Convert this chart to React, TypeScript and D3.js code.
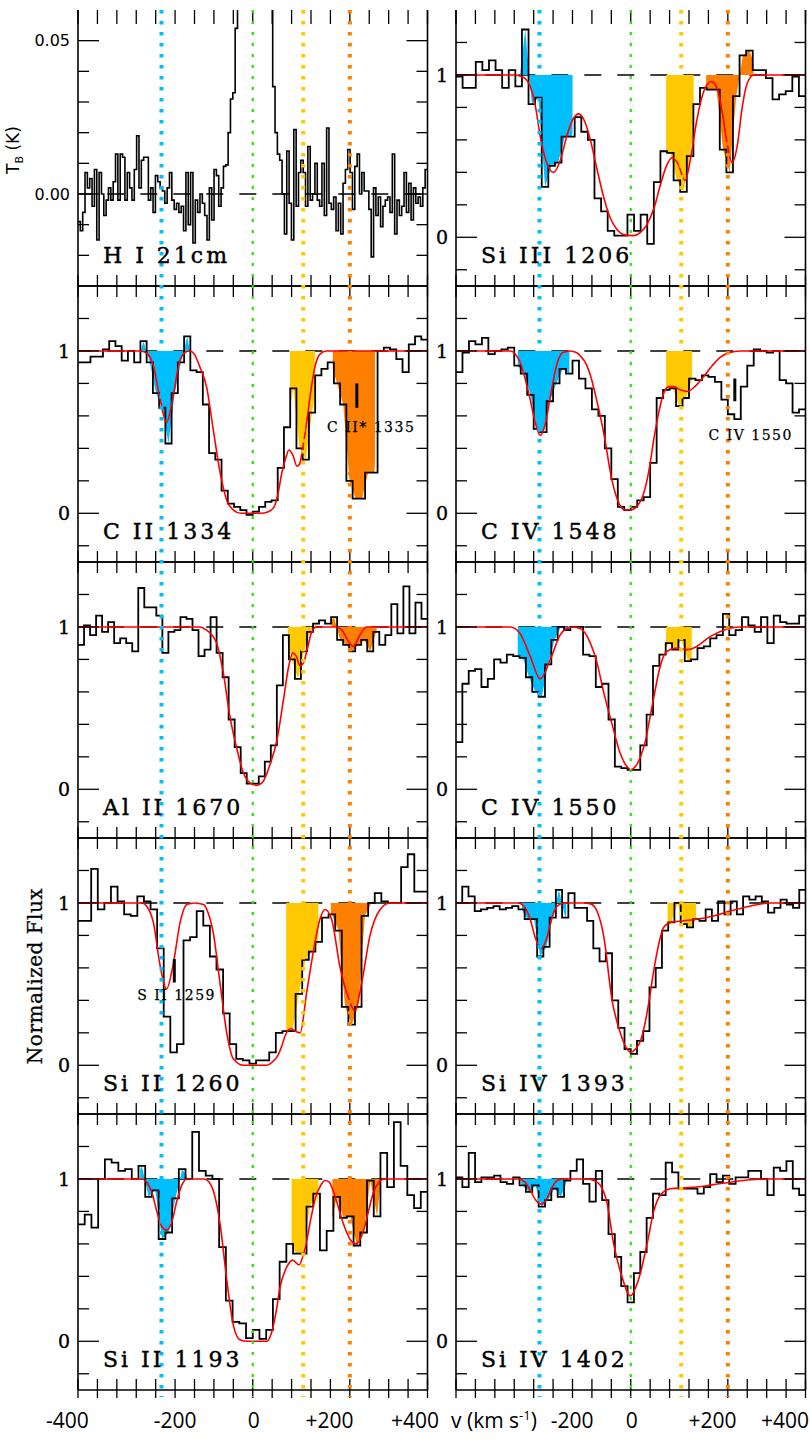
import React from 'react';
import * as d3 from 'd3';

// ---------------- data ----------------
const VEL_DOMAIN = [-450, 450];
const FLUX_DOMAIN = [-0.3, 1.4];
const TB_DOMAIN = [-0.03, 0.06];
const xTickVals = d3.range(-450, 451, 50);
const xLabelVals = [-400, -200, 0, 200, 400];
const xLabelTexts = ['-400', '-200', '0', '+200', '+400'];
const fluxTickVals = [-0.2, 0, 0.2, 0.4, 0.6, 0.8, 1, 1.2];
const fluxLabelVals = [0, 1];
const tbTickVals = [-0.02, -0.01, 0, 0.01, 0.02, 0.03, 0.04, 0.05];
const tbLabelVals = [0, 0.05];
const componentNames = ['blue', 'green', 'yellow', 'orange'];
const componentVels = [-235, 0, 130, 250];

const hiTb = [
  -0.009, -0.012, -0.006, 0.007, 0.002, 0.005, -0.004, 0.008, -0.015, 0.007, 0.0,
  -0.007, -0.002, 0.002, -0.002, 0.004, 0.013, -0.002, 0.013, 0.012, -0.002,
  0.007, 0.002, -0.002, 0.008, 0.019, 0.002, 0.011, 0.012, 0.012, -0.002,
  0.002, -0.006, 0.006, 0.004, 0.002, 0.001, -0.003, 0.002, 0.007, -0.002,
  -0.005, -0.003, -0.006, -0.004, -0.012, 0.007, -0.01, 0.007, -0.016, -0.002,
  -0.006, 0.0, -0.003, -0.007, -0.015, 0.002, -0.0085, 0.008, 0.006, -0.004,
  0.002, 0.009, 0.0095, 0.02, 0.031, 0.033, 0.054,
  0.09, 0.3, 1.2, 3, 6, 9, 10, 9, 7, 4, 2, 0.8, 0.3, 0.12, 0.07,
  0.035, 0.02, 0.013, 0.011, 0.0, -0.013, 0.014, -0.003, -0.015, 0.021,
  -0.004, 0.007, 0.011, 0.007, -0.004, 0.0155, -0.002, 0.0, 0.010, -0.002,
  -0.004, 0.010, -0.007, 0.0215, -0.003, -0.005, -0.001, -0.012, -0.003, -0.013,
  0.0035, 0.008, 0.0145, 0.007, -0.005, 0.009, 0.013, 0.0, 0.007, 0.001,
  0.001, -0.005, -0.0205, 0.002, -0.007, -0.001, -0.0107, -0.004, -0.002, -0.001,
  -0.006, 0.013, -0.013, -0.002, -0.007, -0.004, 0.007, -0.006, 0.0035, -0.0085,
  0.002, -0.003, -0.001, -0.004, 0.002, 0.008,
];

const siIII1206Flux = [0.99, 0.92, 0.92, 1.08, 1.03, 1.09, 1.03, 0.92, 1.03, 0.93, 1.28, 0.82, 0.86, 0.31, 0.44, 0.46, 0.62, 0.62, 0.74, 0.65, 0.60, 0.24, 0.16, 0.04, 0.01, 0.01, 0.14, 0.04, 0.14, -0.04, 0.34, 0.53, 0.52, 0.35, 0.28, 0.5, 0.82, 0.92, 0.91, 0.91, 0.54, 0.40, 0.87, 1.12, 1.15, 1.03, 1.03, 0.98, 0.85, 0.88, 0.90, 0.99, 0.87];
const siIII1206Model = [[-450, 1], [-300, 1], [-280, 0.99], [-259, 0.93], [-245, 0.8], [-233, 0.62], [-215, 0.45], [-199, 0.40], [-182, 0.47], [-164, 0.63], [-148, 0.73], [-134, 0.76], [-118, 0.71], [-104, 0.6], [-87, 0.42], [-70, 0.25], [-53, 0.12], [-36, 0.05], [-15, 0.015], [7, 0.01], [25, 0.03], [42, 0.08], [60, 0.18], [76, 0.32], [92, 0.44], [106, 0.49], [120, 0.46], [140, 0.35], [155, 0.5], [170, 0.72], [188, 0.9], [207, 0.96], [222, 0.92], [235, 0.78], [248, 0.58], [261, 0.46], [274, 0.56], [287, 0.80], [300, 0.95], [317, 1], [450, 1]];

const cII1334Flux = [0.93, 0.93, 0.965, 0.965, 1.01, 1.06, 1.03, 0.94, 1.0, 0.93, 1.06, 0.93, 0.74, 0.65, 0.43, 0.74, 0.93, 1.09, 0.88, 0.87, 0.67, 0.37, 0.33, 0.14, 0.06, 0.04, 0.02, -0.01, 0.01, 0.04, 0.07, 0.08, 0.28, 0.53, 0.77, 0.40, 0.33, 0.62, 0.85, 0.89, 0.93, 0.80, 0.67, 0.20, 0.09, 0.09, 0.25, 0.25, 1.0, 1.02, 1.01, 0.95, 0.87, 1.04, 1.09, 1.07];
const cII1334Model = [[-450, 1], [-290, 1], [-270, 0.98], [-255, 0.9], [-240, 0.72], [-222, 0.56], [-205, 0.72], [-190, 0.92], [-175, 0.99], [-162, 1.0], [-148, 0.97], [-136, 0.9], [-119, 0.78], [-102, 0.52], [-84, 0.25], [-67, 0.08], [-50, 0.02], [-30, 0.0], [20, 0.0], [40, 0.01], [55, 0.04], [65, 0.12], [75, 0.25], [85, 0.34], [93, 0.39], [103, 0.36], [114, 0.29], [120, 0.3], [130, 0.42], [140, 0.58], [150, 0.76], [160, 0.9], [173, 0.98], [190, 1], [450, 1]];

const cIV1548Flux = [0.87, 0.99, 1.06, 1.04, 1.08, 0.98, 1.0, 1.01, 1.02, 0.91, 0.86, 0.73, 0.52, 0.50, 0.69, 0.80, 0.89, 0.86, 0.94, 0.83, 0.77, 0.64, 0.60, 0.40, 0.21, 0.04, 0.02, 0.04, 0.08, 0.10, 0.31, 0.71, 0.76, 0.77, 0.66, 0.71, 0.83, 0.82, 0.85, 0.84, 0.81, 0.70, 0.61, 0.58, 0.78, 0.91, 1.01, 1.0, 0.99, 1.0, 0.82, 0.80, 0.62, 0.64];
const cIV1548Model = [[-450, 1], [-310, 1], [-285, 0.93], [-259, 0.7], [-245, 0.55], [-233, 0.48], [-220, 0.55], [-207, 0.72], [-190, 0.92], [-175, 0.99], [-156, 1.0], [-140, 0.99], [-130, 0.97], [-115, 0.92], [-104, 0.85], [-88, 0.7], [-70, 0.5], [-48, 0.2], [-30, 0.06], [-15, 0.02], [0, 0.02], [15, 0.04], [33, 0.12], [48, 0.28], [59, 0.45], [72, 0.62], [85, 0.74], [98, 0.78], [110, 0.78], [128, 0.76], [145, 0.75], [165, 0.78], [187, 0.84], [210, 0.91], [230, 0.96], [255, 0.99], [282, 1], [450, 1]];

const alII1670Flux = [0.89, 1.01, 0.95, 1.07, 0.97, 1.03, 0.90, 0.93, 0.90, 0.85, 1.24, 1.12, 1.12, 1.07, 0.84, 0.97, 0.98, 1.06, 1.05, 0.98, 0.82, 0.86, 1.06, 0.84, 0.69, 0.43, 0.26, 0.10, 0.035, 0.035, 0.08, 0.17, 0.27, 0.64, 0.95, 0.80, 0.68, 0.85, 0.97, 1.02, 1.04, 1.02, 1.06, 0.92, 0.89, 0.85, 0.89, 0.92, 0.85, 0.97, 0.89, 0.95, 1.14, 0.96, 1.25, 0.96, 1.15, 1.05];
const alII1670Model = [[-450, 1], [-135, 1], [-119, 0.98], [-105, 0.95], [-93, 0.9], [-76, 0.72], [-59, 0.45], [-41, 0.25], [-24, 0.1], [-7, 0.04], [10, 0.025], [27, 0.05], [44, 0.15], [62, 0.3], [79, 0.55], [92, 0.75], [103, 0.84], [112, 0.82], [122, 0.76], [131, 0.78], [139, 0.85], [152, 0.97], [165, 1], [215, 1], [230, 0.98], [242, 0.93], [259, 0.88], [276, 0.95], [293, 1], [450, 1]];

const cIV1550Flux = [0.29, 0.65, 0.73, 0.74, 0.63, 0.68, 0.80, 0.78, 0.83, 0.82, 0.81, 0.69, 0.60, 0.57, 0.77, 0.92, 1.0, 0.98, 1.0, 1.0, 0.83, 0.82, 0.63, 0.65, 0.43, 0.14, 0.13, 0.12, 0.12, 0.27, 0.46, 0.76, 0.83, 0.90, 0.86, 0.92, 0.79, 0.80, 0.87, 0.88, 0.93, 0.95, 1.08, 0.95, 0.98, 1.06, 1.01, 0.97, 1.06, 0.90, 1.07, 1.03, 1.02, 1.02, 1.07];
const cIV1550Model = [[-450, 1], [-310, 1], [-285, 0.96], [-259, 0.82], [-233, 0.68], [-207, 0.8], [-182, 0.95], [-165, 0.99], [-150, 1.0], [-130, 0.99], [-104, 0.9], [-87, 0.78], [-70, 0.6], [-48, 0.4], [-27, 0.22], [-10, 0.14], [0, 0.12], [12, 0.14], [25, 0.2], [38, 0.3], [50, 0.45], [62, 0.6], [72, 0.72], [93, 0.85], [119, 0.87], [145, 0.86], [170, 0.88], [204, 0.94], [239, 0.98], [282, 1], [450, 1]];

const siII1260Flux = [0.89, 0.89, 1.21, 0.96, 1.0, 1.10, 1.01, 0.93, 0.92, 1.04, 1.01, 0.96, 0.72, 0.30, 0.08, 0.13, 0.77, 0.79, 0.95, 0.86, 0.67, 0.59, 0.32, 0.13, 0.04, 0.03, 0.01, 0.03, 0.03, 0.08, 0.20, 0.21, 0.21, 0.44, 0.65, 0.70, 0.76, 0.91, 0.93, 0.83, 0.36, 0.25, 0.36, 0.92, 1.0, 1.06, 1.01, 1.0, 1.0, 1.22, 1.30, 1.07, 1.07];
const siII1260Model = [[-450, 1], [-285, 1], [-273, 0.98], [-256, 0.88], [-239, 0.62], [-222, 0.47], [-205, 0.62], [-187, 0.88], [-170, 0.99], [-150, 1.0], [-127, 0.99], [-115, 0.94], [-102, 0.82], [-84, 0.5], [-67, 0.2], [-50, 0.04], [-24, 0.0], [36, 0.0], [50, 0.02], [62, 0.05], [75, 0.12], [83, 0.18], [98, 0.225], [110, 0.21], [122, 0.2], [139, 0.45], [156, 0.7], [173, 0.9], [186, 0.96], [203, 0.9], [225, 0.6], [246, 0.42], [263, 0.335], [280, 0.5], [302, 0.8], [328, 0.96], [353, 1], [450, 1]];

const siIV1393Flux = [1.0, 1.10, 1.04, 0.95, 0.96, 0.97, 0.98, 0.96, 0.97, 0.98, 0.96, 0.90, 0.90, 0.67, 0.73, 0.91, 1.08, 0.91, 1.06, 0.97, 0.97, 0.89, 0.72, 0.64, 0.69, 0.40, 0.23, 0.10, 0.07, 0.15, 0.21, 0.48, 0.60, 0.83, 0.88, 1.0, 0.87, 0.85, 0.90, 0.89, 0.96, 0.89, 1.01, 0.93, 1.01, 0.93, 1.04, 1.02, 1.04, 1.01, 0.94, 0.97, 1.02, 0.99, 0.97, 1.08];
const siIV1393Model = [[-450, 1], [-290, 1], [-272, 0.97], [-259, 0.9], [-245, 0.78], [-231, 0.72], [-218, 0.77], [-204, 0.9], [-190, 0.98], [-170, 1], [-115, 1], [-100, 0.99], [-87, 0.95], [-70, 0.8], [-48, 0.4], [-27, 0.2], [-12, 0.11], [0, 0.08], [12, 0.1], [25, 0.15], [36, 0.25], [46, 0.38], [57, 0.55], [68, 0.7], [85, 0.85], [102, 0.88], [136, 0.89], [170, 0.9], [213, 0.92], [256, 0.95], [307, 0.98], [360, 1], [450, 1]];

const siII1193Flux = [0.72, 0.78, 0.70, 1.0, 1.12, 1.10, 1.05, 1.06, 1.0, 1.08, 0.89, 0.93, 0.63, 0.67, 0.88, 1.06, 1.0, 1.29, 1.05, 1.02, 1.0, 0.58, 0.25, 0.12, 0.11, 0.02, 0.07, 0.015, 0.07, 0.26, 0.49, 0.60, 0.54, 0.54, 0.83, 0.91, 0.56, 0.68, 0.89, 0.76, 0.77, 0.59, 0.67, 0.99, 0.77, 1.16, 0.95, 1.35, 1.08, 0.9, 0.82, 0.92];
const siII1193Model = [[-450, 1], [-285, 1], [-273, 0.98], [-260, 0.92], [-247, 0.8], [-235, 0.71], [-222, 0.685], [-209, 0.73], [-196, 0.86], [-183, 0.96], [-170, 1], [-125, 1], [-112, 0.98], [-102, 0.93], [-84, 0.72], [-67, 0.38], [-50, 0.1], [-33, 0.01], [-15, 0], [36, 0], [48, 0.05], [60, 0.18], [70, 0.33], [88, 0.46], [103, 0.5], [119, 0.47], [130, 0.53], [139, 0.62], [150, 0.76], [161, 0.88], [175, 0.96], [186, 0.99], [197, 0.98], [208, 0.92], [234, 0.72], [250, 0.63], [266, 0.6], [285, 0.68], [300, 0.82], [311, 0.92], [325, 0.98], [337, 1], [450, 1]];

const siIV1402Flux = [1.01, 0.95, 1.16, 0.98, 1.01, 1.01, 1.02, 0.98, 0.97, 1.01, 0.96, 0.92, 0.96, 0.83, 0.87, 0.94, 0.89, 0.99, 1.05, 1.12, 0.97, 0.86, 1.05, 0.87, 0.66, 0.52, 0.34, 0.24, 0.42, 0.55, 0.76, 0.91, 0.90, 1.10, 1.04, 0.94, 0.94, 0.94, 0.91, 0.95, 1.03, 0.98, 1.02, 0.97, 1.01, 1.01, 1.05, 1.05, 1.0, 0.90, 1.07, 1.05, 1.11, 0.94, 0.90];
const siIV1402Model = [[-450, 1], [-290, 1], [-272, 0.98], [-259, 0.93], [-245, 0.87], [-231, 0.845], [-218, 0.87], [-204, 0.94], [-190, 0.99], [-175, 1], [-110, 1], [-95, 0.99], [-78, 0.96], [-61, 0.85], [-44, 0.6], [-23, 0.4], [-1, 0.28], [20, 0.38], [42, 0.6], [59, 0.8], [76, 0.9], [102, 0.94], [136, 0.945], [170, 0.95], [213, 0.965], [256, 0.98], [307, 0.995], [342, 1], [450, 1]];

// integration ranges (km/s) that are shaded
const siIII1206Fills = [{ comp: 'blue', range: [-285, -150] }, { comp: 'yellow', range: [91, 162] }, { comp: 'orange', range: [194, 316] }];
const cII1334Fills = [{ comp: 'blue', range: [-290, -160] }, { comp: 'yellow', range: [96, 160] }, { comp: 'orange', range: [206, 315] }];
const cIV1548Fills = [{ comp: 'blue', range: [-291, -158] }, { comp: 'yellow', range: [91, 158] }];
const alII1670Fills = [{ comp: 'yellow', range: [90, 163] }, { comp: 'orange', range: [203, 319] }];
const cIV1550Fills = [{ comp: 'blue', range: [-291, -158] }, { comp: 'yellow', range: [91, 157] }];
const siII1260Fills = [{ comp: 'yellow', range: [86, 169] }, { comp: 'orange', range: [201, 310] }];
const siIV1393Fills = [{ comp: 'blue', range: [-280, -166] }, { comp: 'yellow', range: [95, 168] }];
const siII1193Fills = [{ comp: 'blue', range: [-290, -170] }, { comp: 'yellow', range: [100, 169] }, { comp: 'orange', range: [205, 328] }];
const siIV1402Fills = [{ comp: 'blue', range: [-283, -166] }];

const fluxPanels = [
  { id: 'siIII1206', label: 'Si III 1206', col: 1, row: 0, flux: siIII1206Flux, model: siIII1206Model, fills: siIII1206Fills },
  { id: 'cII1334', label: 'C II 1334', col: 0, row: 1, flux: cII1334Flux, model: cII1334Model, fills: cII1334Fills },
  { id: 'cIV1548', label: 'C IV 1548', col: 1, row: 1, flux: cIV1548Flux, model: cIV1548Model, fills: cIV1548Fills },
  { id: 'alII1670', label: 'Al II 1670', col: 0, row: 2, flux: alII1670Flux, model: alII1670Model, fills: alII1670Fills },
  { id: 'cIV1550', label: 'C IV 1550', col: 1, row: 2, flux: cIV1550Flux, model: cIV1550Model, fills: cIV1550Fills },
  { id: 'siII1260', label: 'Si II 1260', col: 0, row: 3, flux: siII1260Flux, model: siII1260Model, fills: siII1260Fills },
  { id: 'siIV1393', label: 'Si IV 1393', col: 1, row: 3, flux: siIV1393Flux, model: siIV1393Model, fills: siIV1393Fills },
  { id: 'siII1193', label: 'Si II 1193', col: 0, row: 4, flux: siII1193Flux, model: siII1193Model, fills: siII1193Fills },
  { id: 'siIV1402', label: 'Si IV 1402', col: 1, row: 4, flux: siIV1402Flux, model: siIV1402Model, fills: siIV1402Fills },
];

// blend markers
const blendPanels = ['cII1334', 'cIV1548', 'siII1260'];
const blendTexts = ['C II* 1335', 'C IV 1550', 'S II 1259'];
const blendVels = [268, 268, -202];
const blendFluxSpans = [[0.65, 0.80], [0.69, 0.83], [0.51, 0.655]];
const blendTextVels = [305, 309, -196];
const blendTextFlux = [0.50, 0.45, 0.40];

// ---------------- layout ----------------
const W = 810, H = 1440;
const COL_X = [78, 456];
const PANEL_W = 349.5;
const ROW_TOP = 10;
const PANEL_H = 276;
const N_ROWS = 5;
const COLORS = { blue: '#00BFFF', green: '#22E800', yellow: '#FFC800', orange: '#FF8000' };
const LABEL_DX = [[-30, 0, 1, -1, 7], [0, 19, 1, 4, -1]];
const SERIF = 'DejaVu Serif, serif';

function xScaleFor(col) {
  return d3.scaleLinear().domain(VEL_DOMAIN).range([COL_X[col], COL_X[col] + PANEL_W]);
}

function Frame({ col, row, y, yTicks, yMajor, yLabels, fmt, labelFont }) {
  const left = COL_X[col], right = left + PANEL_W;
  const top = ROW_TOP + row * PANEL_H, bottom = top + PANEL_H;
  const x = xScaleFor(col);
  const els = [];
  els.push(<line key="l" x1={left} x2={left} y1={top} y2={bottom} stroke="#000" strokeWidth={1.6} />);
  els.push(<line key="r" x1={right} x2={right} y1={top} y2={bottom} stroke="#000" strokeWidth={1.6} />);
  els.push(<line key="b" x1={left} x2={right} y1={bottom} y2={bottom} stroke="#000" strokeWidth={1.6} />);
  if (row > 0) els.push(<line key="t" x1={left} x2={right} y1={top} y2={top} stroke="#000" strokeWidth={1.6} />);
  xTickVals.forEach((v, i) => {
    const xx = x(v);
    els.push(<line key={'xt' + i} x1={xx} x2={xx} y1={top} y2={top + (row === 0 ? 14 : 11)} stroke="#000" strokeWidth={1.3} />);
    els.push(<line key={'xb' + i} x1={xx} x2={xx} y1={bottom - 11} y2={bottom + (row === N_ROWS - 1 ? 8 : 0)} stroke="#000" strokeWidth={1.3} />);
  });
  yTicks.forEach((v, i) => {
    const yy = y(v);
    const len = yMajor.some(m => Math.abs(m - v) < 1e-9) ? 21 : 11;
    els.push(<line key={'yl' + i} x1={left} x2={left + len} y1={yy} y2={yy} stroke="#000" strokeWidth={1.3} />);
    els.push(<line key={'yr' + i} x1={right - len} x2={right} y1={yy} y2={yy} stroke="#000" strokeWidth={1.3} />);
  });
  yLabels.forEach((v, i) => {
    els.push(<text key={'lab' + i} x={left - 8} y={y(v)} dy="0.36em" textAnchor="end" fontFamily={labelFont.family} fontSize={labelFont.size} stroke={labelFont.stroke ? '#000' : 'none'} strokeWidth={labelFont.stroke || 0} fill="#000">{fmt(v)}</text>);
  });
  return <g>{els}</g>;
}

function PanelLabel({ col, row, text }) {
  const left = COL_X[col];
  const bottom = ROW_TOP + (row + 1) * PANEL_H;
  return (
    <text x={left + 25} y={bottom - 23} fontFamily={SERIF} fontSize={22} letterSpacing={3} fill="#000" stroke="#000" strokeWidth={0.45} style={{ whiteSpace: 'pre' }}>{text}</text>
  );
}

function FluxPanel({ p }) {
  const left = COL_X[p.col];
  const top = ROW_TOP + p.row * PANEL_H, bottom = top + PANEL_H;
  const x = xScaleFor(p.col);
  const y = d3.scaleLinear().domain(FLUX_DOMAIN).range([bottom, top]);
  const n = p.flux.length;
  const w = (VEL_DOMAIN[1] - VEL_DOMAIN[0]) / n;
  const stepPts = p.flux.map((f, i) => [VEL_DOMAIN[0] + i * w, f]).concat([[VEL_DOMAIN[1], p.flux[n - 1]]]);
  const stepPath = d3.line().x(d => x(d[0])).y(d => y(d[1])).curve(d3.curveStepAfter)(stepPts);
  const centers = p.flux.map((f, i) => [VEL_DOMAIN[0] + (i + 0.5) * w, f]);
  const interp = d3.scaleLinear().domain(centers.map(c => c[0])).range(centers.map(c => c[1])).clamp(true);
  const area = d3.area().x(d => x(d[0])).y0(y(1)).y1(d => y(d[1]));
  const fills = p.fills.map(fl => {
    const [a, b] = fl.range;
    const pts = [[a, interp(a)], ...centers.filter(c => c[0] > a && c[0] < b), [b, interp(b)]];
    return { d: area(pts), color: COLORS[fl.comp] };
  });
  const modelPath = d3.line().x(d => x(d[0])).y(d => y(d[1])).curve(d3.curveMonotoneX)(p.model);
  const clipId = 'clip-' + p.id;
  return (
    <g>
      <clipPath id={clipId}><rect x={left} y={top} width={PANEL_W} height={PANEL_H} /></clipPath>
      <g clipPath={`url(#${clipId})`}>
        <line x1={left} x2={left + PANEL_W} y1={y(1)} y2={y(1)} stroke="#000" strokeWidth={1.4} strokeDasharray="17 16" strokeDashoffset={3.7} />
        {fills.map((f, i) => <path key={i} d={f.d} fill={f.color} stroke="none" />)}
        <path d={stepPath} fill="none" stroke="#000" strokeWidth={1.8} />
        <path d={modelPath} fill="none" stroke="#FF0000" strokeWidth={1.6} />
      </g>
      <Frame col={p.col} row={p.row} y={y} yTicks={fluxTickVals} yMajor={[0, 1]} yLabels={fluxLabelVals}
        fmt={v => String(v)} labelFont={{ family: SERIF, size: 19, stroke: 0.35 }} />
    </g>
  );
}

function HIPanel() {
  const col = 0, row = 0;
  const left = COL_X[col];
  const top = ROW_TOP + row * PANEL_H, bottom = top + PANEL_H;
  const x = xScaleFor(col);
  const y = d3.scaleLinear().domain(TB_DOMAIN).range([bottom, top]);
  const n = hiTb.length;
  const w = (VEL_DOMAIN[1] - VEL_DOMAIN[0]) / n;
  const pts = hiTb.map((f, i) => [VEL_DOMAIN[0] + i * w, f]).concat([[VEL_DOMAIN[1], hiTb[n - 1]]]);
  const path = d3.line().x(d => x(d[0])).y(d => Math.max(top - 20, y(d[1]))).curve(d3.curveStepAfter)(pts);
  return (
    <g>
      <clipPath id="clip-hi"><rect x={left} y={top} width={PANEL_W} height={PANEL_H} /></clipPath>
      <g clipPath="url(#clip-hi)">
        <line x1={left} x2={left + PANEL_W} y1={y(0)} y2={y(0)} stroke="#000" strokeWidth={1.4} strokeDasharray="17 16" strokeDashoffset={3.7} />
        <path d={path} fill="none" stroke="#000" strokeWidth={1.6} />
      </g>
      <Frame col={col} row={row} y={y} yTicks={tbTickVals} yMajor={[0, 0.05]} yLabels={tbLabelVals}
        fmt={v => d3.format('.2f')(v)} labelFont={{ family: 'DejaVu Sans, sans-serif', size: 16 }} />
    </g>
  );
}

function ComponentLines({ col }) {
  const x = xScaleFor(col);
  const y1 = ROW_TOP, y2 = ROW_TOP + N_ROWS * PANEL_H + 7;
  return (
    <g>
      {componentNames.map((name, i) => {
        const green = name === 'green';
        return (
          <line key={name} x1={x(componentVels[i])} x2={x(componentVels[i])} y1={y1} y2={y2}
            stroke={COLORS[name]} strokeWidth={green ? 2.2 : 4} strokeDasharray={green ? '3 8' : '3.4 7.6'} />
        );
      })}
    </g>
  );
}

function Blends() {
  return (
    <g>
      {blendPanels.map((id, i) => {
        const p = fluxPanels.find(q => q.id === id);
        const top = ROW_TOP + p.row * PANEL_H, bottom = top + PANEL_H;
        const x = xScaleFor(p.col);
        const y = d3.scaleLinear().domain(FLUX_DOMAIN).range([bottom, top]);
        return (
          <g key={id}>
            <line x1={x(blendVels[i])} x2={x(blendVels[i])} y1={y(blendFluxSpans[i][0])} y2={y(blendFluxSpans[i][1])} stroke="#000" strokeWidth={3} />
            <text x={x(blendTextVels[i])} y={y(blendTextFlux[i])} textAnchor="middle" fontFamily={SERIF} fontSize={14} letterSpacing={1.5} fill="#000" stroke="#000" strokeWidth={0.25} style={{ whiteSpace: 'pre' }}>{blendTexts[i]}</text>
          </g>
        );
      })}
    </g>
  );
}

function XLabels() {
  const yy = 1428;
  const els = [];
  [0, 1].forEach(col => {
    const x = xScaleFor(col);
    xLabelVals.forEach((v, i) => {
      if (col === 1 && i === 0) return;
      els.push(<text key={col + '-' + i} x={x(v) + LABEL_DX[col][i]} y={yy} textAnchor="middle" fontFamily="Open Sans, sans-serif" fontSize={21} fill="#000">{xLabelTexts[i]}</text>);
    });
  });
  els.push(
    <text key="vlab" x={451} y={yy} fontFamily="Open Sans, sans-serif" fontSize={21} fill="#000">
      v (km s<tspan dy={-8} fontSize={13}>-1</tspan><tspan dy={8}>)</tspan>
    </text>
  );
  return <g>{els}</g>;
}

export default function App() {
  return (
    <svg width={W} height={H} viewBox={`0 0 ${W} ${H}`} style={{ position: 'absolute', left: 0, top: 0, background: '#fff' }}>
      <rect x={0} y={0} width={W} height={H} fill="#fff" />
      <HIPanel />
      {fluxPanels.map(p => <FluxPanel key={p.id} p={p} />)}
      <ComponentLines col={0} />
      <ComponentLines col={1} />
      <PanelLabel col={0} row={0} text="H I 21cm" />
      {fluxPanels.map(p => <PanelLabel key={p.id} col={p.col} row={p.row} text={p.label} />)}
      <Blends />
      <XLabels />
      <text transform="translate(19,150) rotate(-90)" textAnchor="middle" fontFamily="DejaVu Sans, sans-serif" fontSize={17} fill="#000">
        T<tspan dy={4} fontSize={11}>B</tspan><tspan dy={-4}> (K)</tspan>
      </text>
      <text transform="translate(42,976) rotate(-90)" textAnchor="middle" fontFamily={SERIF} fontSize={20} letterSpacing={0.5} fill="#000" stroke="#000" strokeWidth={0.3}>Normalized Flux</text>
    </svg>
  );
}
